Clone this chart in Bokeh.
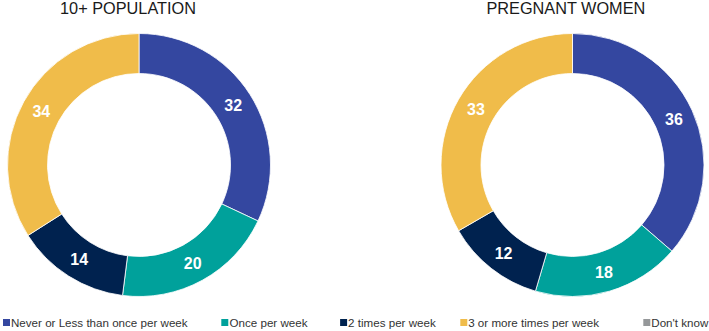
import math

from bokeh.core.properties import value
from bokeh.embed import file_html
from bokeh.models import ColumnDataSource, Range1d
from bokeh.plotting import figure
from bokeh.resources import INLINE

# Survey answers (percent) for the two groups
CATEGORIES = [
    "Never or Less than once per week",
    "Once per week",
    "2 times per week",
    "3 or more times per week",
    "Don't know",
]
POPULATION_10 = [32, 20, 14, 34, 0]
PREGNANT_WOMEN = [36, 18, 12, 33, 0]
TITLES = ["10+ POPULATION", "PREGNANT WOMEN"]
COLORS = ["#3447A0", "#00A19B", "#00224F", "#F0BC4A", "#95989A"]

W, H = 709, 331
FONT = value("Liberation Sans")

p = figure(
    width=W, height=H,
    x_range=Range1d(0, W), y_range=Range1d(0, H),
    x_axis_location=None, y_axis_location=None,
    toolbar_location=None, output_backend="svg",
    min_border=0,
)
p.outline_line_color = None
p.xgrid.visible = False
p.ygrid.visible = False
p.background_fill_color = "white"
p.border_fill_color = "white"

INNER_R, OUTER_R = 91.5, 131.5
LABEL_R = (INNER_R + OUTER_R) / 2

donuts = [
    (POPULATION_10, 138.5, 166.5, 127.5),
    (PREGNANT_WOMEN, 572.0, 166.5, 565.5),
]

for (vals, cx, cy, tx), title in zip(donuts, TITLES):
    total = float(sum(vals))
    xs, ys, starts, ends, cols = [], [], [], [], []
    lx, ly, lt = [], [], []
    cum = 0.0
    for v, c in zip(vals, COLORS):
        if v <= 0:
            continue
        a0 = cum / total
        a1 = (cum + v) / total
        cum += v
        # clockwise from 12 o'clock
        s = math.pi / 2 - 2 * math.pi * a0
        e = math.pi / 2 - 2 * math.pi * a1
        xs.append(cx); ys.append(cy); starts.append(s); ends.append(e); cols.append(c)
        mid = (s + e) / 2
        lx.append(cx + LABEL_R * math.cos(mid))
        ly.append(cy + LABEL_R * math.sin(mid))
        lt.append(str(v))
    src = ColumnDataSource(dict(x=xs, y=ys, start=starts, end=ends, color=cols))
    p.annular_wedge(
        x="x", y="y", inner_radius=INNER_R, outer_radius=OUTER_R,
        start_angle="start", end_angle="end", direction="clock",
        fill_color="color", line_color="white", line_width=0.8, source=src,
    )
    lsrc = ColumnDataSource(dict(x=lx, y=ly, text=lt))
    p.text(
        x="x", y="y", text="text", source=lsrc,
        text_color="white", text_font=FONT, text_font_style="bold",
        text_font_size=value("16px"), text_align="center", text_baseline="middle",
    )
    p.text(
        x=[tx], y=[323.5], text=[title],
        text_color="#1a1a1a", text_font=FONT, text_font_size=value("16.3px"),
        text_align="center", text_baseline="middle",
    )

# Legend row along the bottom
LEG_SQ_X = [6.0, 224.3, 343.1, 463.3, 646.3]
LEG_TX_X = [10.5, 229.0, 347.6, 467.7, 650.8]
p.rect(x=LEG_SQ_X, y=[9.0] * 5, width=7, height=7, fill_color=COLORS, line_color=None)
p.text(
    x=LEG_TX_X, y=[8.6] * 5, text=CATEGORIES,
    text_color="#333333", text_font=FONT, text_font_size=value("11.6px"),
    text_align="left", text_baseline="middle",
)

open("out.html", "w").write(file_html(p, INLINE))
